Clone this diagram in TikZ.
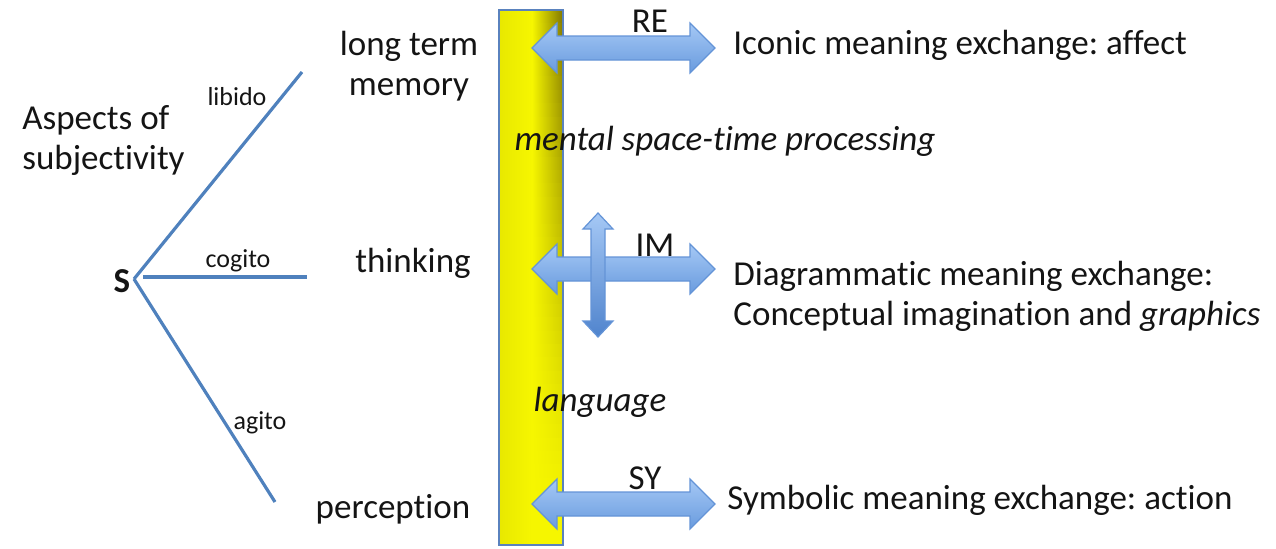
\documentclass[tikz,border=0pt]{standalone}
\usepackage{fontspec}
\setmainfont{Carlito}[Ligatures=NoCommon]
\frenchspacing
\definecolor{linblue}{RGB}{79,129,189}
\definecolor{arrtop}{RGB}{165,200,245}
\definecolor{arrbot}{RGB}{105,155,222}
\definecolor{varrbot}{RGB}{80,132,205}
\definecolor{arredge}{RGB}{100,148,215}
\definecolor{barblue}{RGB}{90,130,190}
\definecolor{txt}{RGB}{20,20,20}
\definecolor{barL}{RGB}{232,232,0}
\definecolor{barM}{RGB}{246,246,0}
\definecolor{barDark}{RGB}{130,120,0}
\tikzset{
  big/.style={font=\fontsize{17.5}{20}\selectfont, text=txt, inner sep=0pt},
  small/.style={font=\fontsize{13}{15}\selectfont, text=txt, inner sep=0pt},
  branch/.style={draw=linblue, line width=1.6pt},
  arrowbody/.style={draw=arredge, line width=0.6pt, top color=arrtop, bottom color=arrbot},
}
% horizontal double arrow: x1, x2, yc
\newcommand{\myharrow}[3]{%
  \path[arrowbody] (#1,#3) -- ++(25,-25) -- ++(0,13) -- (#2-25,#3-12) -- ++(0,-13) -- (#2,#3) -- ++(-25,25) -- ++(0,-13) -- (#1+25,#3+12) -- ++(0,13) -- cycle;}
\begin{document}
\begin{tikzpicture}[x=0.5pt,y=-0.5pt]
\useasboundingbox (0,0) rectangle (1276,548);
% bar
\path[left color=barL, right color=barM] (499,10) rectangle (532,545);
\foreach \i in {0,...,39} {
  \pgfmathsetmacro\p{100*(1-\i/39)^1.4}
  \path[left color=barM, right color=barDark!\p!barM] (532,{10+\i*13.375}) rectangle (563,{10+(\i+1)*13.375+0.6});
}
\draw[barblue, line width=0.6pt] (499,10) rectangle (563,545);
% arrows
\myharrow{532}{715}{48}
\myharrow{532}{715}{269}
\myharrow{532}{715}{504}
\path[arrowbody, top color=arrtop, bottom color=varrbot] (598,213) -- ++(15,16) -- ++(-8,0) -- (605,321) -- ++(8,0) -- (598,337) -- ++(-15,-16) -- ++(8,0) -- (591,229) -- ++(-8,0) -- cycle;
% arrow labels
\node[big] (re) at (650,21) {RE};
\node[big] (im) at (655,245) {IM};
\node[big] (sy) at (645,478) {SY};
% right texts
\node[big, anchor=west] (icon) at (733,45) {Iconic meaning exchange: affect};
\node[big, anchor=west, align=left] (diag) at (733,296) {Diagrammatic meaning exchange:\\Conceptual imagination and \textit{graphics}};
\node[big, anchor=west] (symb) at (727,500) {Symbolic meaning exchange: action};
\node[big] (mental) at (725,141) {\textit{mental space-time processing}};
\node[big] (lang) at (600,402) {\textit{language}};
% middle texts
\node[big, align=center] (ltm) at (409,66) {long term\\memory};
\node[big] (think) at (413,263) {thinking};
\node[big] (perc) at (393,509) {perception};
% left
\node[big, anchor=west, align=left] (asp) at (22,140) {Aspects of\\subjectivity};
\node[big, font=\fontsize{17.5}{20}\selectfont\bfseries] (S) at (122,281) {S};
\coordinate (o) at (134,279);
\coordinate (lib) at (302,72);
\coordinate (cogs) at (143,277);
\coordinate (cog) at (307,277);
\coordinate (agi) at (275,502);
\draw[branch] (o) -- (lib);
\draw[branch] (cogs) -- (cog);
\draw[branch] (o) -- (agi);
\node[small] (libido) at (237,97) {libido};
\node[small] (cogito) at (238,261) {cogito};
\node[small] (agito) at (260,423) {agito};
\end{tikzpicture}
\end{document}
